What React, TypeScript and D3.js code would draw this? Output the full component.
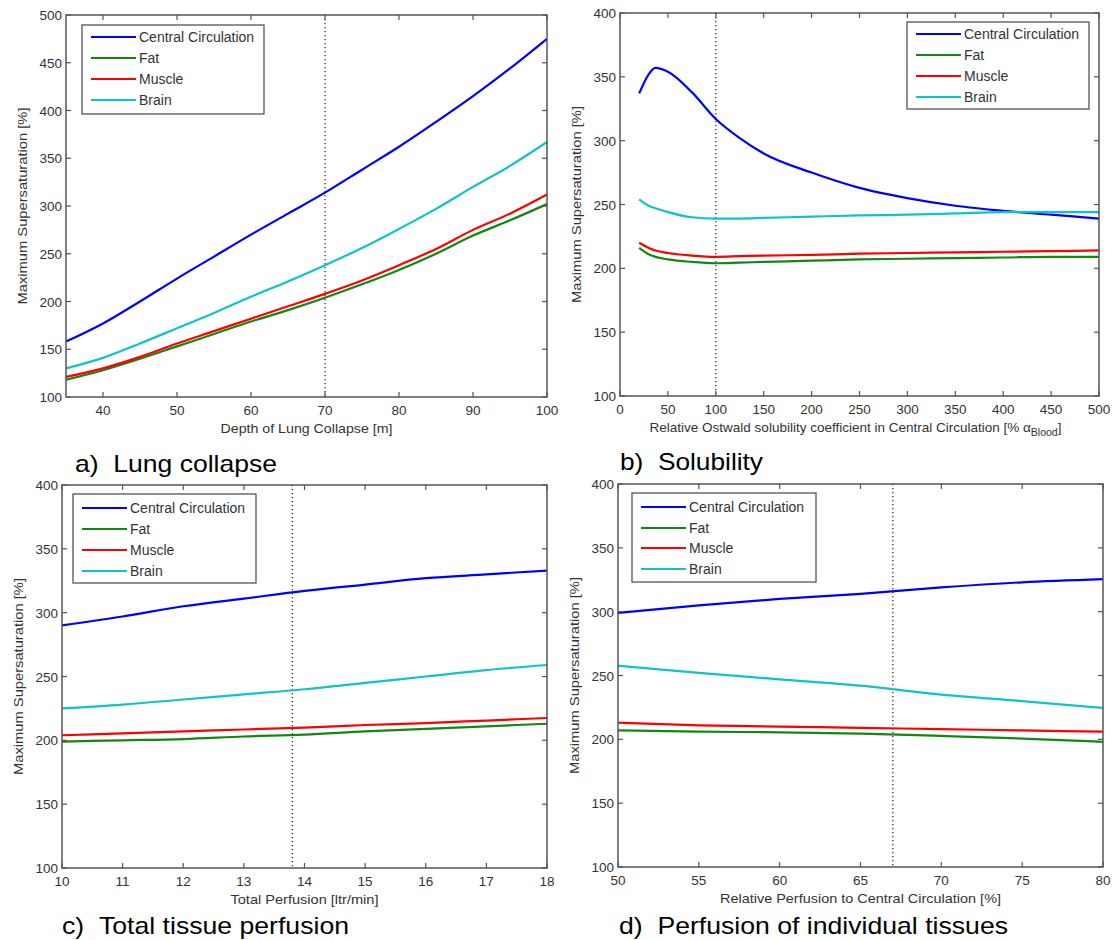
import React from "react";
import * as d3 from "d3";

const seriesNames = ["Central Circulation", "Fat", "Muscle", "Brain"];
const seriesColors = ["#0000ff", "#118811", "#ff0000", "#11c4c4"];

// Panel a: Depth of lung collapse
const aX = [35, 40, 45, 50, 55, 60, 65, 70, 75, 80, 85, 90, 95, 100];
const aCentral = [158, 177, 200, 224, 247, 270, 292, 314, 338, 362, 388, 415, 444, 475];
const aFat = [118, 128, 140, 153, 166, 179, 191, 204, 218, 233, 250, 269, 285, 302];
const aMuscle = [121, 130, 142, 156, 169, 182, 195, 208, 222, 238, 255, 275, 292, 312];
const aBrain = [130, 141, 156, 172, 188, 205, 221, 238, 256, 276, 297, 320, 342, 367];

// Panel b: solubility
const bX = [20, 30, 37, 50, 75, 100, 125, 150, 200, 250, 300, 350, 400, 450, 500];
const bCentral = [337, 352, 357, 354, 338, 317, 302, 290, 275, 263, 255, 249, 245, 242, 239];
const bFat = [216, 211, 209, 207, 205, 204, 204.5, 205, 206, 207, 207.5, 208, 208.5, 209, 209];
const bMuscle = [220, 216, 214, 212, 210, 209, 209.5, 210, 210.5, 211.5, 212, 212.5, 213, 213.5, 214];
const bBrain = [254, 249, 247, 244, 240, 239, 239, 239.5, 240.5, 241.5, 242, 243, 244, 244, 244];

// Panel c: total perfusion
const cX = [10, 11, 12, 13, 14, 15, 16, 17, 18];
const cCentral = [290, 297, 305, 311, 317, 322, 327, 330, 333];
const cFat = [199, 200, 201, 203, 204.5, 207, 209, 211, 213];
const cMuscle = [204, 205.5, 207, 208.5, 210, 212, 213.5, 215.5, 217.5];
const cBrain = [225, 228, 232, 236, 240, 245, 250, 255, 259];

// Panel d: relative perfusion
const dX = [50, 55, 60, 65, 70, 75, 80];
const dCentral = [299, 305, 310, 314, 319, 323, 325.5];
const dFat = [207, 206, 205.5, 204.5, 202.7, 200.6, 198];
const dMuscle = [213, 211, 210, 209, 208, 207, 206];
const dBrain = [257.6, 252, 247, 242, 235, 230, 224.6];

const aTicksX = [40, 50, 60, 70, 80, 90, 100];
const aTicksY = [100, 150, 200, 250, 300, 350, 400, 450, 500];
const bTicksX = [0, 50, 100, 150, 200, 250, 300, 350, 400, 450, 500];
const cTicksX = [10, 11, 12, 13, 14, 15, 16, 17, 18];
const dTicksX = [50, 55, 60, 65, 70, 75, 80];
const yTicks400 = [100, 150, 200, 250, 300, 350, 400];

const NB = "\u00a0";

const panels = [
  {
    box: { l: 66, r: 547, t: 15, b: 397 },
    xDomain: [35, 100], yDomain: [100, 500],
    xTicks: aTicksX, yTicks: aTicksY,
    x: aX, ys: [aCentral, aFat, aMuscle, aBrain],
    marker: 70,
    xLabel: "Depth of Lung Collapse [m]", xLabelW: 172,
    caption: "a)" + NB + NB + "Lung collapse", capX: 75, capY: 472, capW: 202,
    legend: { l: 82, t: 25, r: 264, b: 114, rows: [37, 58, 79, 100] },
  },
  {
    box: { l: 620, r: 1099, t: 13, b: 396 },
    xDomain: [0, 500], yDomain: [100, 400],
    xTicks: bTicksX, yTicks: yTicks400,
    x: bX, ys: [bCentral, bFat, bMuscle, bBrain],
    marker: 100,
    xLabel: "SUB", xLabelW: 0,
    caption: "b)" + NB + NB + "Solubility", capX: 620, capY: 470, capW: 143,
    legend: { l: 907, t: 22, r: 1089, b: 109, rows: [34, 55, 76, 97] },
  },
  {
    box: { l: 62, r: 547, t: 485, b: 868 },
    xDomain: [10, 18], yDomain: [100, 400],
    xTicks: cTicksX, yTicks: yTicks400,
    x: cX, ys: [cCentral, cFat, cMuscle, cBrain],
    marker: 13.8,
    xLabel: "Total Perfusion [ltr/min]", xLabelW: 148,
    caption: "c)" + NB + NB + "Total tissue perfusion", capX: 62, capY: 934, capW: 287,
    legend: { l: 73, t: 494, r: 256, b: 583, rows: [508, 529, 550, 571] },
  },
  {
    box: { l: 618, r: 1103, t: 484, b: 867 },
    xDomain: [50, 80], yDomain: [100, 400],
    xTicks: dTicksX, yTicks: yTicks400,
    x: dX, ys: [dCentral, dFat, dMuscle, dBrain],
    marker: 67,
    xLabel: "Relative Perfusion to Central Circulation [%]", xLabelW: 281,
    caption: "d)" + NB + NB + "Perfusion of individual tissues", capX: 619, capY: 934, capW: 389,
    legend: { l: 632, t: 493, r: 816, b: 582, rows: [507, 528, 548, 569] },
  },
];

const FONT = "Liberation Sans, Arial, sans-serif";
const AX = "#555";
const TXT = "#333";

function Panel({ p }: { p: any }) {
  const { box } = p;
  const xs = d3.scaleLinear().domain(p.xDomain).range([box.l, box.r]);
  const ys = d3.scaleLinear().domain(p.yDomain).range([box.b, box.t]);
  const line = d3.line<[number, number]>().x((d) => xs(d[0])).y((d) => ys(d[1])).curve(d3.curveMonotoneX);
  const tl = 5;
  const lg = p.legend;
  return (
    <g>
      <rect x={box.l} y={box.t} width={box.r - box.l} height={box.b - box.t} fill="#fff" />
      <line x1={xs(p.marker)} x2={xs(p.marker)} y1={box.t} y2={box.b} stroke="#333" strokeWidth={1.3} strokeDasharray="1.3,2.7" />
      {p.ys.map((vals: number[], i: number) => (
        <path key={i} d={line(p.x.map((xv: number, j: number) => [xv, vals[j]] as [number, number])) || ""} fill="none" stroke={seriesColors[i]} strokeWidth={2.2} />
      ))}
      <rect x={box.l} y={box.t} width={box.r - box.l} height={box.b - box.t} fill="none" stroke={AX} strokeWidth={1.5} />
      {p.xTicks.map((t: number) => (
        <g key={"x" + t}>
          <line x1={xs(t)} x2={xs(t)} y1={box.b} y2={box.b - tl} stroke={AX} strokeWidth={1.2} />
          <line x1={xs(t)} x2={xs(t)} y1={box.t} y2={box.t + tl} stroke={AX} strokeWidth={1.2} />
          <text x={xs(t)} y={box.b + 18} textAnchor="middle" fontSize={13.5} fill={TXT} fontFamily={FONT}>{t}</text>
        </g>
      ))}
      {p.yTicks.map((t: number) => (
        <g key={"y" + t}>
          <line x1={box.l} x2={box.l + tl} y1={ys(t)} y2={ys(t)} stroke={AX} strokeWidth={1.2} />
          <line x1={box.r} x2={box.r - tl} y1={ys(t)} y2={ys(t)} stroke={AX} strokeWidth={1.2} />
          <text x={box.l - 4} y={ys(t) + 5} textAnchor="end" fontSize={13.5} fill={TXT} fontFamily={FONT}>{t}</text>
        </g>
      ))}
      <text transform={`translate(${box.l - 39},${(box.t + box.b) / 2}) rotate(-90)`} textAnchor="middle" fontSize={13.5} textLength={197} lengthAdjust="spacingAndGlyphs" fill={TXT} fontFamily={FONT}>Maximum Supersaturation [%]</text>
      {p.xLabel === "SUB" ? (
        <text x={(box.l + box.r) / 2 - 4} y={box.b + 36} textAnchor="middle" fontSize={13.5} fill={TXT} fontFamily={FONT}>
          Relative Ostwald solubility coefficient in Central Circulation [% α
          <tspan fontSize={10.5} dy={4}>Blood</tspan>
          <tspan dy={-4}>]</tspan>
        </text>
      ) : (
        <text x={(box.l + box.r) / 2} y={box.b + 36} textAnchor="middle" fontSize={13.5} textLength={p.xLabelW} lengthAdjust="spacingAndGlyphs" fill={TXT} fontFamily={FONT}>{p.xLabel}</text>
      )}
      <rect x={lg.l} y={lg.t} width={lg.r - lg.l} height={lg.b - lg.t} fill="#fff" stroke={AX} strokeWidth={1.3} />
      {seriesNames.map((n, i) => (
        <g key={n}>
          <line x1={lg.l + 9} x2={lg.l + 54} y1={lg.rows[i]} y2={lg.rows[i]} stroke={seriesColors[i]} strokeWidth={2.2} />
          <text x={lg.l + 57} y={lg.rows[i] + 5} fontSize={14} fill={TXT} fontFamily={FONT}>{n}</text>
        </g>
      ))}
      <text x={p.capX} y={p.capY} fontSize={24} textLength={p.capW} lengthAdjust="spacingAndGlyphs" fill="#000" fontFamily={FONT}>{p.caption}</text>
    </g>
  );
}

export default function App() {
  return (
    <svg width={1116} height={940} style={{ position: "absolute", left: 0, top: 0, background: "#fff" }}>
      <rect width={1116} height={940} fill="#fff" />
      {panels.map((p, i) => (
        <Panel key={i} p={p} />
      ))}
    </svg>
  );
}
